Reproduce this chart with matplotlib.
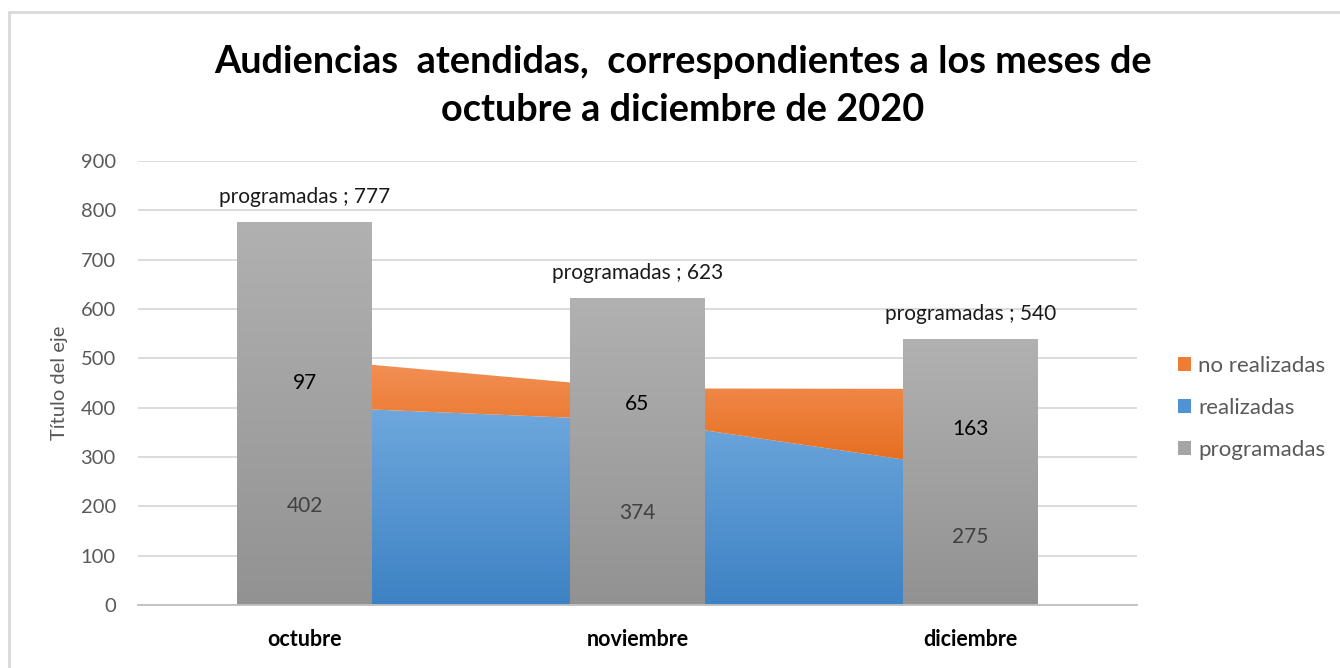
import matplotlib
matplotlib.use('Agg')
import matplotlib.pyplot as plt
import numpy as np
from matplotlib.colors import LinearSegmentedColormap
from matplotlib.patches import Patch, Rectangle

plt.rcParams['font.family'] = ['Lato', 'DejaVu Sans']

meses = ['octubre', 'noviembre', 'diciembre']
programadas = [777, 623, 540]
realizadas = [402, 374, 275]
no_realizadas = [97, 65, 163]

x = np.arange(len(meses))
tope = np.array(realizadas) + np.array(no_realizadas)

fig = plt.figure(figsize=(13.4, 6.68), dpi=100)
ax = fig.add_axes([138/1340, 63/668, 999/1340, 444/668])

# marco del gráfico
fig.patches.append(Rectangle((9/1340, -0.1), 1.2, (668-12)/668 + 0.1, transform=fig.transFigure,
                             fill=False, edgecolor='#D9D9D9', linewidth=2))


def degradado(artist, c_arriba, c_abajo, y0, y1, z, path=None):
    cmap = LinearSegmentedColormap.from_list('g', [c_abajo, c_arriba])
    img = ax.imshow(np.linspace(0, 1, 256).reshape(-1, 1), cmap=cmap, origin='lower',
                    extent=(-0.5, 2.5, y0, y1), aspect='auto', zorder=z, interpolation='bilinear')
    if path is not None:
        img.set_clip_path(path, ax.transData)
    else:
        img.set_clip_path(artist)


# areas apiladas
a1 = ax.fill_between(x, 0, realizadas, facecolor='none', edgecolor='none', zorder=2)
a2 = ax.fill_between(x, realizadas, tope, facecolor='none', edgecolor='none', zorder=2)
degradado(a1, '#6FA8DD', '#3D82C4', 0, max(realizadas), 2, a1.get_paths()[0])
degradado(a2, '#F39157', '#E56C1B', min(realizadas), max(tope), 2, a2.get_paths()[0])

# barras programadas
barras = ax.bar(x, programadas, width=0.405, color='none', edgecolor='none', zorder=3)
for b, v in zip(barras, programadas):
    degradado(b, '#B1B1B1', '#929292', 0, v, 3)

# etiquetas
for i in range(len(meses)):
    ax.annotate(f'programadas ; {programadas[i]}', (x[i], programadas[i]), xytext=(0, 18),
                textcoords='offset points', ha='center', va='center', fontsize=15, color='#1a1a1a', zorder=5)
    ax.text(x[i], realizadas[i] / 2, str(realizadas[i]), ha='center', va='center',
            fontsize=15, color='#404040', zorder=5)
    ax.text(x[i], realizadas[i] + no_realizadas[i] / 2, str(no_realizadas[i]), ha='center', va='center',
            fontsize=15, color='#000000', zorder=5)

ax.set_xlim(-0.5, 2.5)
ax.set_ylim(0, 900)
ax.set_yticks(np.arange(0, 901, 100))
ax.set_xticks(x)
ax.set_xticklabels(meses, fontweight='bold', fontsize=15.5)
ax.tick_params(axis='y', length=0, pad=16, labelsize=14.5, labelcolor='#595959')
ax.tick_params(axis='x', length=0, pad=17, labelcolor='#000000')
ax.grid(axis='y', color='#D9D9D9', linewidth=1.3, zorder=0)
ax.set_axisbelow(True)
for s in ['top', 'right', 'left']:
    ax.spines[s].set_visible(False)
ax.spines['bottom'].set_color('#BFBFBF')
ax.spines['bottom'].set_linewidth(1.3)
ax.spines['bottom'].set_zorder(4)

ax.set_ylabel('Título del eje', fontsize=14.5, color='#595959', labelpad=9)

fig.text(683/1340, 1 - 73/668, 'Audiencias  atendidas,  correspondientes a los meses de',
         fontsize=27.3, fontweight='bold', ha='center', va='baseline')
fig.text(683/1340, 1 - 121/668, 'octubre a diciembre de 2020',
         fontsize=27.3, fontweight='bold', ha='center', va='baseline')

handles = [Patch(facecolor='#EE7D34'), Patch(facecolor='#4F93D4'), Patch(facecolor='#A5A5A5')]
fig.legend(handles, ['no realizadas', 'realizadas', 'programadas'], loc='center left',
           bbox_to_anchor=(1167/1340, 1 - 408/668), frameon=False, fontsize=16,
           labelcolor='#595959', handlelength=0.6, handleheight=0.6, handletextpad=0.3,
           labelspacing=1.0, borderpad=0)

fig.savefig('out.png', dpi=100)
